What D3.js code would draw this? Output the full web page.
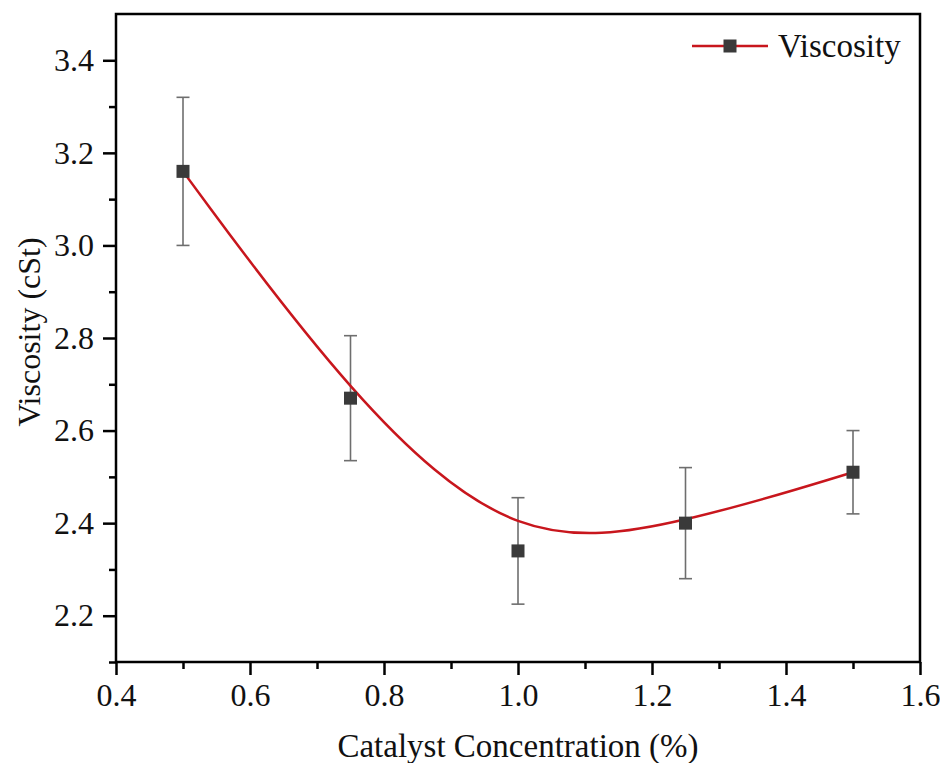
<!DOCTYPE html>
<html>
<head>
<meta charset="utf-8">
<script src="https://cdn.jsdelivr.net/npm/d3@7"></script>
<style>
  body { margin: 0; background: #fff; }
  text { font-family: "Liberation Serif", "Times New Roman", serif; fill: #111; }
</style>
</head>
<body>
<div id="chart"></div>
<script>
// Data
// ================================
var concentration = [0.5, 0.75, 1.0, 1.25, 1.5];
var viscosity = [3.16, 2.67, 2.34, 2.40, 2.51];
var viscosityErr = [0.16, 0.135, 0.115, 0.12, 0.09];
var xTicks = [0.4, 0.6, 0.8, 1.0, 1.2, 1.4, 1.6];
var yTicks = [2.2, 2.4, 2.6, 2.8, 3.0, 3.2, 3.4];

// Set up chart
// ================================
var svgWidth = 940;
var svgHeight = 763;

var margin = { top: 14, right: 20, bottom: 101, left: 116 };

var width = svgWidth - margin.left - margin.right;
var height = svgHeight - margin.top - margin.bottom;

var svg = d3.select("#chart")
  .append("svg")
  .attr("width", svgWidth)
  .attr("height", svgHeight);

var chartGroup = svg.append("g")
  .attr("transform", `translate(${margin.left}, ${margin.top})`);

var points = concentration.map((c, i) => ({ x: c, y: viscosity[i], err: viscosityErr[i] }));

var xScale = d3.scaleLinear().domain([0.4, 1.6]).range([0, width]);
var yScale = d3.scaleLinear().domain([2.1, 3.5]).range([height, 0]);

// minor ticks first, then major ticks with labels
var xMinor = d3.range(0.5, 1.6, 0.2);
var yMinor = d3.range(2.1, 3.5, 0.2);

chartGroup.append("g")
  .attr("transform", `translate(0, ${height})`)
  .call(d3.axisBottom(xScale).tickValues(xMinor).tickSize(7).tickFormat(""))
  .call(g => g.select(".domain").remove())
  .selectAll("line").attr("stroke", "#000").attr("stroke-width", 2.5);

chartGroup.append("g")
  .call(d3.axisLeft(yScale).tickValues(yMinor).tickSize(7).tickFormat(""))
  .call(g => g.select(".domain").remove())
  .selectAll("line").attr("stroke", "#000").attr("stroke-width", 2.5);

var xAxis = chartGroup.append("g")
  .attr("transform", `translate(0, ${height})`)
  .call(d3.axisBottom(xScale).tickValues(xTicks).tickSize(13).tickPadding(8).tickFormat(d3.format(".1f")));

var yAxis = chartGroup.append("g")
  .call(d3.axisLeft(yScale).tickValues(yTicks).tickSize(13).tickPadding(9).tickFormat(d3.format(".1f")));

[xAxis, yAxis].forEach(function (ax) {
  ax.attr("font-size", null).attr("font-family", null);
  ax.select(".domain").remove();
  ax.selectAll("line").attr("stroke", "#000").attr("stroke-width", 2.5);
  ax.selectAll("text")
    .style("font-family", "'Liberation Serif', serif")
    .style("font-size", "32px")
    .attr("fill", "#111");
});

// frame
chartGroup.append("rect")
  .attr("x", 0).attr("y", 0)
  .attr("width", width).attr("height", height)
  .attr("fill", "none")
  .attr("stroke", "#000")
  .attr("stroke-width", 2.5);

// error bars
var capW = 13;
var errGroup = chartGroup.append("g")
  .attr("stroke", "#6e6e6e")
  .attr("stroke-width", 1.6);

errGroup.selectAll("line.stem")
  .data(points).enter().append("line").attr("class", "stem")
  .attr("x1", d => xScale(d.x)).attr("x2", d => xScale(d.x))
  .attr("y1", d => yScale(d.y + d.err)).attr("y2", d => yScale(d.y - d.err));

errGroup.selectAll("line.capTop")
  .data(points).enter().append("line").attr("class", "capTop")
  .attr("x1", d => xScale(d.x) - capW / 2).attr("x2", d => xScale(d.x) + capW / 2)
  .attr("y1", d => yScale(d.y + d.err)).attr("y2", d => yScale(d.y + d.err));

errGroup.selectAll("line.capBot")
  .data(points).enter().append("line").attr("class", "capBot")
  .attr("x1", d => xScale(d.x) - capW / 2).attr("x2", d => xScale(d.x) + capW / 2)
  .attr("y1", d => yScale(d.y - d.err)).attr("y2", d => yScale(d.y - d.err));

// B-spline curve through the points
var line = d3.line()
  .x(d => xScale(d.x))
  .y(d => yScale(d.y))
  .curve(d3.curveBasis);

chartGroup.append("path")
  .datum(points)
  .attr("d", line)
  .attr("fill", "none")
  .attr("stroke", "#c8161d")
  .attr("stroke-width", 2.5);

// square markers
var sq = 13;
chartGroup.selectAll("rect.marker")
  .data(points).enter().append("rect")
  .attr("class", "marker")
  .attr("x", d => xScale(d.x) - sq / 2)
  .attr("y", d => yScale(d.y) - sq / 2)
  .attr("width", sq).attr("height", sq)
  .attr("fill", "#3a3a3a");

// legend
var legend = svg.append("g").attr("transform", "translate(692, 46)");
legend.append("line")
  .attr("x1", 0).attr("x2", 76).attr("y1", 0).attr("y2", 0)
  .attr("stroke", "#c8161d").attr("stroke-width", 2.5);
legend.append("rect")
  .attr("x", 38 - sq / 2).attr("y", -sq / 2)
  .attr("width", sq).attr("height", sq)
  .attr("fill", "#3a3a3a");
legend.append("text")
  .attr("x", 86).attr("y", 11)
  .style("font-size", "33px")
  .text("Viscosity");

// y axis title
svg.append("text")
  .attr("transform", "rotate(-90)")
  .attr("x", -332)
  .attr("y", 40)
  .attr("text-anchor", "middle")
  .style("font-size", "32px")
  .text("Viscosity (cSt)");

// x axis title
svg.append("text")
  .attr("x", margin.left + width / 2)
  .attr("y", 757)
  .attr("text-anchor", "middle")
  .style("font-size", "33px")
  .text("Catalyst Concentration (%)");
</script>
</body>
</html>
